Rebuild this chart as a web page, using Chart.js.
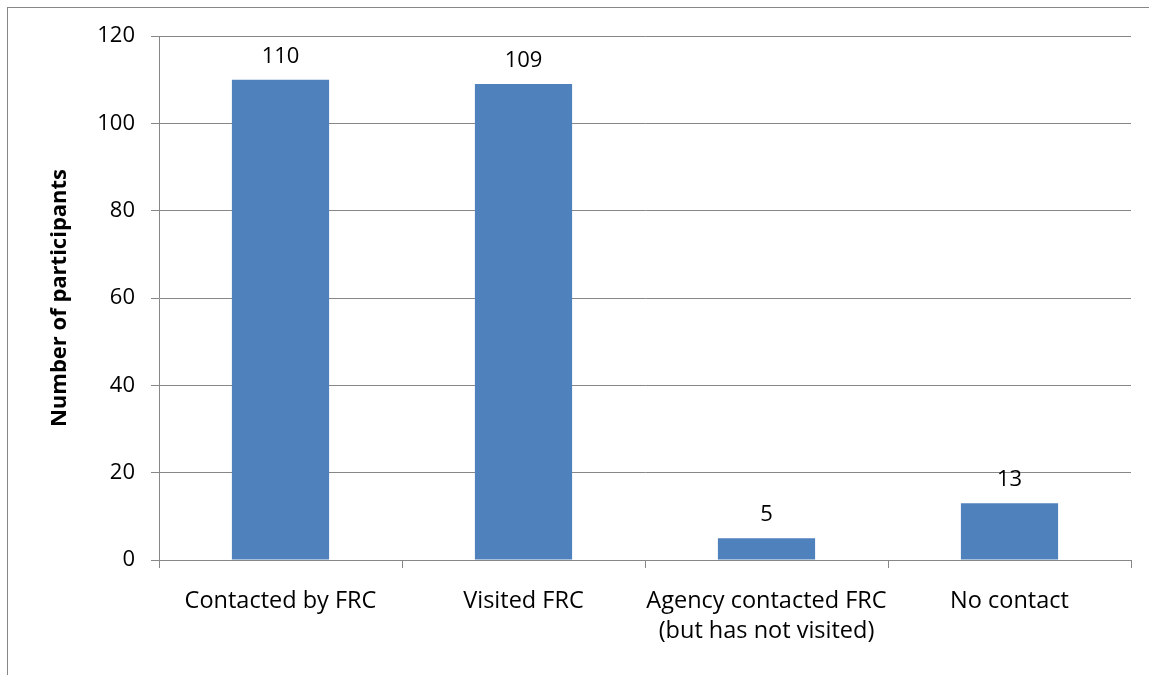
<!DOCTYPE html>
<html>
<head>
<meta charset="utf-8">
<script src="https://cdn.jsdelivr.net/npm/chart.js@4.4.1/dist/chart.umd.min.js"></script>
<style>
  html, body { margin: 0; padding: 0; background: #ffffff; }
  #wrap { position: relative; width: 1149px; height: 675px; }
  #marco {
    position: absolute; left: 7px; top: 7px; right: -2px; bottom: -2px;
    border-left: 1px solid #878787; border-top: 1px solid #878787;
  }
  canvas { position: absolute; left: 0; top: 0; }
</style>
</head>
<body>
<div id="wrap">
  <div id="marco"></div>
  <canvas id="grafico" width="1149" height="675"></canvas>
</div>
<script>
// Datos del gráfico
const categorias = [
    'Contacted by FRC',
    'Visited FRC',
    ['Agency contacted FRC', '(but has not visited)'],
    'No contact'
];
const participantes = [110, 109, 5, 13];
const ejeY = { min: 0, max: 120, paso: 20 };

const fuente = "'Open Sans', 'DejaVu Sans', sans-serif";
const colorRejilla = '#878787';

// Etiquetas de valor encima de cada barra
const etiquetasValor = {
    id: 'etiquetasValor',
    afterDatasetsDraw: function(chart) {
        const ctx = chart.ctx;
        const meta = chart.getDatasetMeta(0);
        ctx.save();
        ctx.font = '22px ' + fuente;
        ctx.fillStyle = '#000000';
        ctx.textAlign = 'center';
        ctx.textBaseline = 'alphabetic';
        meta.data.forEach((barra, i) => {
            ctx.fillText(String(chart.data.datasets[0].data[i]), barra.x, barra.y - 17);
        });
        ctx.restore();
    }
};

Chart.defaults.font.family = fuente;
Chart.defaults.font.size = 22;
Chart.defaults.color = '#000000';

const ctx = document.getElementById('grafico').getContext('2d');
new Chart(ctx, {
    type: 'bar',
    data: {
        labels: categorias,
        datasets: [{
            data: participantes,
            backgroundColor: '#4F81BD',
            borderWidth: 0,
            barPercentage: 0.4,
            categoryPercentage: 1.0
        }]
    },
    options: {
        responsive: false,
        animation: false,
        layout: { padding: { left: 0, top: 36, right: 18, bottom: 0 } },
        plugins: {
            legend: { display: false },
            tooltip: { enabled: false }
        },
        scales: {
            x: {
                afterFit: (escala) => { escala.height = 115; },
                grid: {
                    offset: true,
                    drawOnChartArea: false,
                    drawTicks: true,
                    tickLength: 8,
                    color: colorRejilla
                },
                border: { color: colorRejilla, width: 1 },
                ticks: {
                    padding: 19,
                    maxRotation: 0,
                    autoSkip: false,
                    font: { size: 23.5, lineHeight: 1.25 }
                }
            },
            y: {
                min: ejeY.min,
                max: ejeY.max,
                afterFit: (escala) => { escala.width = 159; },
                grid: {
                    color: colorRejilla,
                    drawTicks: true,
                    tickLength: 8
                },
                border: { color: colorRejilla, width: 1 },
                ticks: {
                    stepSize: ejeY.paso,
                    padding: 16,
                    font: { size: 22 }
                },
                title: {
                    display: true,
                    text: 'Number of participants',
                    font: { size: 22, weight: 'bold', lineHeight: 1.2 },
                    padding: { top: 47, bottom: 0 }
                }
            }
        }
    },
    plugins: [etiquetasValor]
});
</script>
</body>
</html>
